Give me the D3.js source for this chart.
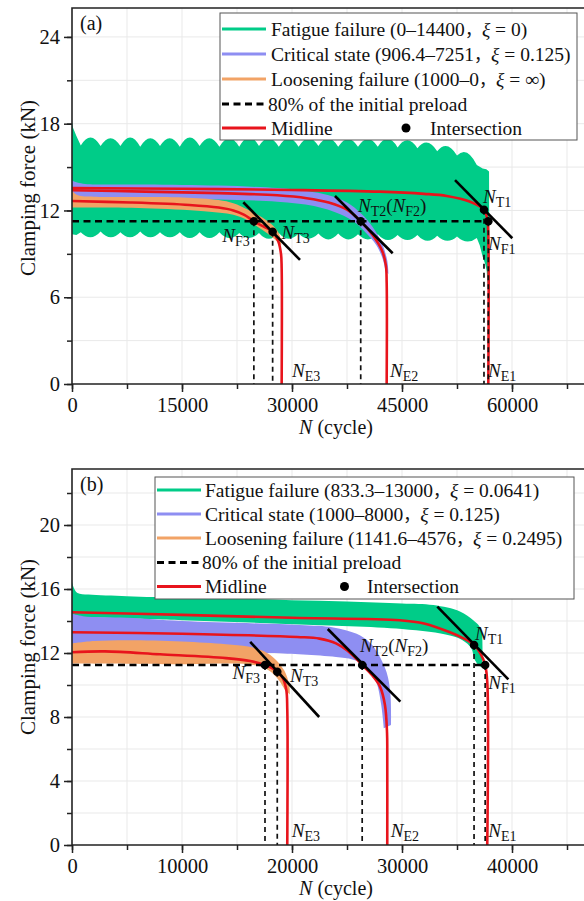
<!DOCTYPE html>
<html>
<head>
<meta charset="utf-8">
<script src="https://cdn.jsdelivr.net/npm/d3@7"></script>
<style>
body { margin: 0; background: #fff; }
svg { display: block; font-family: "Liberation Serif", "Times New Roman", serif; }
</style>
</head>
<body>
<svg id="chart" width="584" height="901"></svg>
<script>
////////// Data : panel (a)
var xTicksA = [0, 7500, 15000, 22500, 30000, 37500, 45000, 52500, 60000, 67500];
var xLabelsA = [0, 15000, 30000, 45000, 60000];
var yTicksA = [0, 3, 6, 9, 12, 15, 18, 21, 24];
var yLabelsA = [0, 6, 12, 18, 24];

// green band (fatigue) : scalloped envelopes
var greenTopLeadA = [[0, 18.1], [150, 17.7], [600, 17.15]];
var greenCuspNA = [1200, 3900, 6600, 9300, 12000, 14700, 17400, 20100, 22800, 25500, 28200,
  30900, 33600, 36300, 39000, 41700, 44400, 47100, 49800, 52500, 55200];
var greenTopCuspA = [16.5, 16.45, 16.45, 16.4, 16.45, 16.4, 16.45, 16.4, 16.4, 16.45, 16.4,
  16.4, 16.45, 16.4, 16.4, 16.4, 16.35, 16.3, 16.1, 15.8, 15.15];
var greenTopApexA = [17.05, 17.0, 17.05, 17.0, 17.0, 17.05, 17.0, 17.0, 17.05, 17.0,
  17.0, 17.0, 17.0, 16.95, 16.95, 16.95, 16.85, 16.7, 16.45, 16.0];
var greenRightA = [[56000, 14.9], [56500, 14.85], [56870, 14.7], [56900, 9.0], [56870, 6.6],
  [56700, 6.7], [56550, 7.8], [56350, 8.3], [56000, 8.8], [55600, 9.6]];
var greenBotCuspA = [10.5, 10.55, 10.5, 10.55, 10.5, 10.5, 10.5, 10.5, 10.45, 10.45, 10.45,
  10.4, 10.4, 10.4, 10.35, 10.35, 10.3, 10.3, 10.25, 10.2, 10.1];
var greenBotApexA = [10.15, 10.15, 10.15, 10.15, 10.15, 10.1, 10.1, 10.1, 10.1, 10.05,
  10.05, 10.05, 10.0, 10.0, 10.0, 9.95, 9.95, 9.9, 9.9, 9.85];
var greenBotLeadA = [[600, 10.3], [0, 10.35]];

var purpleUpA = [[0, 14.05], [1500, 13.85], [10000, 13.8], [20000, 13.72], [28000, 13.55], [32000, 13.35],
  [35000, 13.05], [37500, 12.55], [39500, 11.75], [41000, 10.85], [42300, 9.7], [43000, 8.5], [43150, 7.6]];
var purpleLowA = [[42750, 7.8], [42400, 8.6], [41500, 9.6], [40000, 10.5], [38500, 11.2], [36500, 11.75],
  [33000, 12.3], [28000, 12.6], [20000, 12.75], [10000, 12.8], [0, 12.8]];
var orangeUpA = [[0, 13.35], [800, 13.05], [3000, 12.95], [15000, 12.9], [20000, 12.72], [22000, 12.5],
  [24000, 12.05], [26000, 11.5], [27500, 10.9], [28300, 10.3], [28550, 9.6]];
var orangeLowA = [[28250, 9.7], [27200, 10.2], [25500, 10.8], [24000, 11.3], [22000, 11.7], [18000, 11.95],
  [10000, 12.15], [3000, 12.2], [0, 12.2]];

var midFatigueA = [[0, 13.55], [15000, 13.5], [30000, 13.42], [42000, 13.3], [48000, 13.15], [51100, 13.0],
  [54300, 12.6], [56180, 12.05], [56650, 11.3], [56770, 10.3], [56770, 0]];
var midCriticalA = [[0, 13.4], [10000, 13.3], [20000, 13.2], [28000, 13.05], [32000, 12.85], [35000, 12.55],
  [37500, 12.05], [39370, 11.25], [41000, 10.3], [42300, 9.2], [42800, 8.2], [42910, 7.0], [42910, 0]];
var midLooseA = [[0, 12.65], [8000, 12.55], [16000, 12.38], [20000, 12.2], [22000, 12.0], [23500, 11.7],
  [24800, 11.25], [26100, 10.9], [27360, 10.53], [28100, 9.9], [28500, 9.0], [28590, 8.0], [28590, 0]];

var tangentsA = [[[23360, 12.57], [31090, 8.58]], [[35860, 13.0], [43730, 9.04]], [[52230, 14.1], [60040, 10.08]]];
var dotsA = [[24800, 11.25], [27360, 10.53], [39370, 11.25], [56180, 12.05], [56770, 11.25]];
var labelsA = [
  {sub: "T1", n: 56045, f: 12.52}, {sub: "T2", sub2: "F2", n: 39000, f: 11.89},
  {sub: "F1", n: 56727, f: 9.27}, {sub: "F3", n: 20500, f: 9.85}, {sub: "T3", n: 28568, f: 10.06},
  {sub: "E3", n: 30000, f: 0.48}, {sub: "E2", n: 43364, f: 0.48}, {sub: "E1", n: 56727, f: 0.48}];
var legendA = [["Fatigue failure", "0–14400", "0"], ["Critical state", "906.4–7251", "0.125"],
  ["Loosening failure", "1000–0", "∞"]];

////////// Data : panel (b)
var xTicksB = [0, 5000, 10000, 15000, 20000, 25000, 30000, 35000, 40000, 45000];
var xLabelsB = [0, 10000, 20000, 30000, 40000];
var yTicksB = [0, 2, 4, 6, 8, 10, 12, 14, 16, 18, 20, 22];
var yLabelsB = [0, 4, 8, 12, 16, 20];

var greenUpB = [[0, 16.45], [150, 16.1], [500, 15.75], [1500, 15.65], [5000, 15.55], [10000, 15.45], [15000, 15.4],
  [20000, 15.3], [25000, 15.22], [30000, 15.1], [32850, 15.0], [35270, 14.6], [36480, 14.05], [37000, 13.7],
  [37250, 13.3], [37280, 11.1]];
var greenLowB = [[37000, 11.2], [36600, 11.6], [36300, 12.3], [35500, 12.8], [34360, 13.1], [30000, 13.5],
  [20000, 13.8], [10000, 14.05], [0, 14.25]];
var purpleUpB = [[0, 14.45], [1000, 14.3], [5000, 14.2], [10000, 14.0], [20700, 13.75], [23760, 13.6], [25880, 13.2],
  [27000, 12.7], [27700, 12.1], [28600, 10.8], [28950, 9.4], [29000, 7.5]];
var purpleLowB = [[28350, 7.3], [28100, 8.8], [27650, 10.2], [27000, 10.9], [26300, 11.35], [25500, 11.6],
  [24000, 11.75], [21000, 11.9], [18000, 12.0], [10000, 12.05], [0, 12.1]];
var orangeUpB = [[0, 12.6], [2000, 12.75], [5000, 12.8], [10000, 12.72], [14000, 12.55], [16000, 12.4],
  [17500, 12.1], [18500, 11.6], [19300, 10.9], [19750, 10.0], [19800, 9.4]];
var orangeLowB = [[19350, 9.7], [18800, 10.3], [17900, 10.9], [16500, 11.25], [10000, 11.3], [0, 11.35]];

var midFatigueB = [[0, 14.55], [10000, 14.38], [20000, 14.2], [29800, 14.05], [32000, 13.85], [34360, 13.3],
  [35500, 12.95], [36550, 12.5], [37150, 11.95], [37560, 11.25], [37750, 10.2], [37750, 0]];
var midCriticalB = [[0, 13.3], [10000, 13.2], [20500, 13.0], [22500, 12.9], [24000, 12.6], [25300, 12.0],
  [26380, 11.25], [27300, 10.6], [28000, 9.9], [28450, 8.75], [28640, 7.0], [28660, 5.5], [28660, 0]];
var midLooseB = [[0, 12.05], [3000, 12.1], [8000, 11.92], [14000, 11.68], [16200, 11.5], [17545, 11.25],
  [18100, 11.08], [18660, 10.83], [19150, 10.45], [19480, 9.7], [19570, 8.5], [19570, 0]];

var tangentsB = [[[16200, 12.7], [22470, 8.0]], [[23250, 13.5], [29850, 8.96]], [[33210, 14.9], [39670, 10.35]]];
var dotsB = [[17545, 11.25], [18660, 10.83], [26380, 11.25], [36550, 12.5], [37560, 11.25]];
var labelsB = [
  {sub: "T1", n: 36636, f: 12.81}, {sub: "T2", sub2: "F2", n: 26182, f: 12.08},
  {sub: "F1", n: 37845, f: 9.75}, {sub: "F3", n: 14600, f: 10.36}, {sub: "T3", n: 19818, f: 10.21},
  {sub: "E3", n: 19973, f: 0.52}, {sub: "E2", n: 28973, f: 0.52}, {sub: "E1", n: 37845, f: 0.52}];
var legendB = [["Fatigue failure", "833.3–13000", "0.0641"], ["Critical state", "1000–8000", "0.125"],
  ["Loosening failure", "1141.6–4576", "0.2495"]];

var preload = 11.25;   // 80% of the initial preload (kN)

////////// Styles
var GREEN = "#00cc88", PURPLE = "#8e8ef2", ORANGE = "#f2a366", RED = "#e8141c";
var svg = d3.select("#chart");

function drawPanel(c) {
  var x = d3.scaleLinear().domain(c.xDomain).range([72, 600]);
  var y = d3.scaleLinear().domain(c.yDomain).range(c.yRange);
  var g = svg.append("g");
  var clipId = "clip" + c.letter.replace(/\W/g, "");
  g.append("clipPath").attr("id", clipId).append("rect")
    .attr("x", 72).attr("y", c.yRange[1]).attr("width", 528).attr("height", c.yRange[0] - c.yRange[1]);

  // grid
  g.selectAll(".gx").data(c.xTicks.slice(1)).enter().append("line")
    .attr("x1", d => x(d)).attr("x2", d => x(d)).attr("y1", c.yRange[0]).attr("y2", c.yRange[1])
    .attr("stroke", "#e9e9e9").attr("stroke-width", 1);
  g.selectAll(".gy").data(c.yTicks.slice(1)).enter().append("line")
    .attr("x1", 72).attr("x2", 600).attr("y1", d => y(d)).attr("y2", d => y(d))
    .attr("stroke", "#e9e9e9").attr("stroke-width", 1);

  var plot = g.append("g").attr("clip-path", "url(#" + clipId + ")");
  var curve = d3.line().x(d => x(d[0])).y(d => y(d[1])).curve(d3.curveCatmullRom.alpha(0.5));
  var band = function(up, low) { return curve(up) + "L" + curve(low).slice(1) + "Z"; };

  // bands
  plot.append("path").attr("d", c.greenPath(x, y, band)).attr("fill", GREEN);
  plot.append("path").attr("d", band(c.purpleUp, c.purpleLow)).attr("fill", PURPLE);
  plot.append("path").attr("d", band(c.orangeUp, c.orangeLow)).attr("fill", ORANGE);

  // midlines
  c.mids.forEach(function(m) {
    plot.append("path").attr("d", curve(m)).attr("fill", "none").attr("stroke", RED).attr("stroke-width", 2.6);
  });

  // 80% preload line and drop lines
  var last = c.dots[c.dots.length - 1];
  plot.append("line").attr("x1", x(0)).attr("x2", x(last[0])).attr("y1", y(preload)).attr("y2", y(preload))
    .attr("stroke", "#000").attr("stroke-width", 2.6).attr("stroke-dasharray", "7,4.5");
  plot.selectAll(".drop").data(c.dots).enter().append("line")
    .attr("x1", d => x(d[0])).attr("x2", d => x(d[0])).attr("y1", d => y(d[1])).attr("y2", y(0))
    .attr("stroke", "#111").attr("stroke-width", 1.7).attr("stroke-dasharray", "5,4");

  // tangent lines
  plot.selectAll(".tan").data(c.tangents).enter().append("line")
    .attr("x1", d => x(d[0][0])).attr("y1", d => y(d[0][1])).attr("x2", d => x(d[1][0])).attr("y2", d => y(d[1][1]))
    .attr("stroke", "#000").attr("stroke-width", 2.6);

  // intersection dots
  plot.selectAll(".dot").data(c.dots).enter().append("circle")
    .attr("cx", d => x(d[0])).attr("cy", d => y(d[1])).attr("r", 4.3).attr("fill", "#000");

  // point labels
  c.labels.forEach(function(l) {
    var t = g.append("text").attr("x", x(l.n)).attr("y", y(l.f)).attr("font-size", 19).attr("fill", "#111");
    t.append("tspan").attr("font-style", "italic").text("N");
    t.append("tspan").attr("font-size", 14).attr("dy", 4).text(l.sub);
    if (l.sub2) {
      t.append("tspan").attr("dy", -4).text("(");
      t.append("tspan").attr("font-style", "italic").text("N");
      t.append("tspan").attr("font-size", 14).attr("dy", 4).text(l.sub2);
      t.append("tspan").attr("dy", -4).text(")");
    }
  });

  // axes
  var xMinor = g.append("g").attr("transform", "translate(0," + c.yRange[0] + ")")
    .call(d3.axisBottom(x).tickValues(c.xTicks).tickSize(5).tickFormat(""));
  var xMajor = g.append("g").attr("transform", "translate(0," + c.yRange[0] + ")")
    .call(d3.axisBottom(x).tickValues(c.xLabels).tickSize(8).tickPadding(5).tickFormat(d3.format("d")));
  var yMinor = g.append("g").attr("transform", "translate(72,0)")
    .call(d3.axisLeft(y).tickValues(c.yTicks).tickSize(5).tickFormat(""));
  var yMajor = g.append("g").attr("transform", "translate(72,0)")
    .call(d3.axisLeft(y).tickValues(c.yLabels).tickSize(8).tickPadding(4).tickFormat(d3.format("d")));
  [xMinor, xMajor, yMinor, yMajor].forEach(function(a) {
    a.selectAll("path").remove();
    a.selectAll("line").attr("stroke", "#222").attr("stroke-width", 1.5);
    a.selectAll("text").attr("font-family", "Liberation Serif, serif").attr("font-size", 20.5).attr("fill", "#111");
  });
  g.append("path").attr("d", "M72," + c.yRange[1] + "V" + c.yRange[0] + "H600V" + c.yRange[1] + "Z")
    .attr("fill", "none").attr("stroke", "#222").attr("stroke-width", 1.6);

  // axis titles
  g.append("text").attr("transform", "translate(35," + c.yTitleY + ") rotate(-90)")
    .attr("text-anchor", "middle").attr("font-size", 21).attr("fill", "#111").text("Clamping force (kN)");
  var xt = g.append("text").attr("x", 336).attr("y", c.yRange[0] + 50).attr("text-anchor", "middle")
    .attr("font-size", 20).attr("fill", "#111");
  xt.append("tspan").attr("font-style", "italic").text("N");
  xt.append("tspan").text(" (cycle)");

  // panel letter
  g.append("text").attr("x", 80).attr("y", c.yRange[1] + 22).attr("font-size", 20).attr("fill", "#111").text(c.letter);

  // legend
  var L = c.legend;
  g.append("rect").attr("x", L.x).attr("y", L.y).attr("width", L.w).attr("height", L.h)
    .attr("fill", "#fff").attr("stroke", "#555").attr("stroke-width", 1);
  var colors = [GREEN, PURPLE, ORANGE];
  c.legendItems.forEach(function(it, i) {
    var ry = L.rows[i];
    g.append("line").attr("x1", L.sx0).attr("x2", L.sx1).attr("y1", ry).attr("y2", ry)
      .attr("stroke", colors[i]).attr("stroke-width", 3.2);
    var t = g.append("text").attr("x", L.tx).attr("y", ry + 6.5).attr("font-size", 19.5).attr("fill", "#111");
    t.append("tspan").text(it[0] + " (" + it[1]);
    t.append("tspan").attr("font-family", "Noto Sans CJK SC, sans-serif").attr("font-size", 17).text("，");
    t.append("tspan").attr("font-style", "italic").text("ξ");
    t.append("tspan").text(" = " + it[2] + ")");
  });
  g.append("line").attr("x1", L.sx0).attr("x2", L.sx1).attr("y1", L.rows[3]).attr("y2", L.rows[3])
    .attr("stroke", "#000").attr("stroke-width", 3.2).attr("stroke-dasharray", "7,4.5");
  g.append("text").attr("x", L.tx - 3).attr("y", L.rows[3] + 6.5).attr("font-size", 19.5).attr("fill", "#111")
    .text("80% of the initial preload");
  g.append("line").attr("x1", L.sx0).attr("x2", L.sx1).attr("y1", L.rows[4]).attr("y2", L.rows[4])
    .attr("stroke", RED).attr("stroke-width", 3.2);
  g.append("text").attr("x", L.tx).attr("y", L.rows[4] + 6.5).attr("font-size", 19.5).attr("fill", "#111").text("Midline");
  g.append("circle").attr("cx", L.dx).attr("cy", L.rows[4]).attr("r", 4.5).attr("fill", "#000");
  g.append("text").attr("x", L.ix).attr("y", L.rows[4] + 6.5).attr("font-size", 19.5).attr("fill", "#111").text("Intersection");
}

// scalloped green band for panel (a)
function scallop(p, x, y, cN, cF, aF, rev) {
  var idx = d3.range(cN.length);
  if (rev) idx.reverse();
  p.lineTo(x(cN[idx[0]]), y(cF[idx[0]]));
  for (var k = 1; k < idx.length; k++) {
    var i0 = idx[k - 1], i1 = idx[k];
    var x0 = x(cN[i0]), y0 = y(cF[i0]), x1 = x(cN[i1]), y1 = y(cF[i1]);
    var ya = y(aF[Math.min(i0, i1)]);
    p.quadraticCurveTo((x0 + x1) / 2, 2 * ya - (y0 + y1) / 2, x1, y1);
  }
}
function greenPathA(x, y) {
  var p = d3.path();
  p.moveTo(x(greenTopLeadA[0][0]), y(greenTopLeadA[0][1]));
  greenTopLeadA.slice(1).forEach(d => p.lineTo(x(d[0]), y(d[1])));
  scallop(p, x, y, greenCuspNA, greenTopCuspA, greenTopApexA, false);
  greenRightA.forEach(d => p.lineTo(x(d[0]), y(d[1])));
  scallop(p, x, y, greenCuspNA, greenBotCuspA, greenBotApexA, true);
  greenBotLeadA.forEach(d => p.lineTo(x(d[0]), y(d[1])));
  p.closePath();
  return p.toString();
}

drawPanel({
  letter: "(a)", xDomain: [0, 72000], yDomain: [0, 26], yRange: [384, 8],
  xTicks: xTicksA, xLabels: xLabelsA, yTicks: yTicksA, yLabels: yLabelsA,
  greenPath: greenPathA, purpleUp: purpleUpA, purpleLow: purpleLowA, orangeUp: orangeUpA, orangeLow: orangeLowA,
  mids: [midFatigueA, midCriticalA, midLooseA], tangents: tangentsA, dots: dotsA, labels: labelsA,
  legendItems: legendA, yTitleY: 188,
  legend: {x: 220, y: 13, w: 357, h: 127, rows: [29, 54, 79, 104, 128], sx0: 222, sx1: 266, tx: 271, dx: 406, ix: 430}
});
drawPanel({
  letter: "(b)", xDomain: [0, 48000], yDomain: [0, 23.5], yRange: [845, 469],
  xTicks: xTicksB, xLabels: xLabelsB, yTicks: yTicksB, yLabels: yLabelsB,
  greenPath: function(x, y, band) { return band(greenUpB, greenLowB); },
  purpleUp: purpleUpB, purpleLow: purpleLowB, orangeUp: orangeUpB, orangeLow: orangeLowB,
  mids: [midFatigueB, midCriticalB, midLooseB], tangents: tangentsB, dots: dotsB, labels: labelsB,
  legendItems: legendB, yTitleY: 647,
  legend: {x: 155, y: 477, w: 419, h: 122, rows: [490, 514, 538, 562.5, 586.5], sx0: 157, sx1: 201, tx: 205, dx: 344.5, ix: 367}
});
</script>
</body>
</html>
